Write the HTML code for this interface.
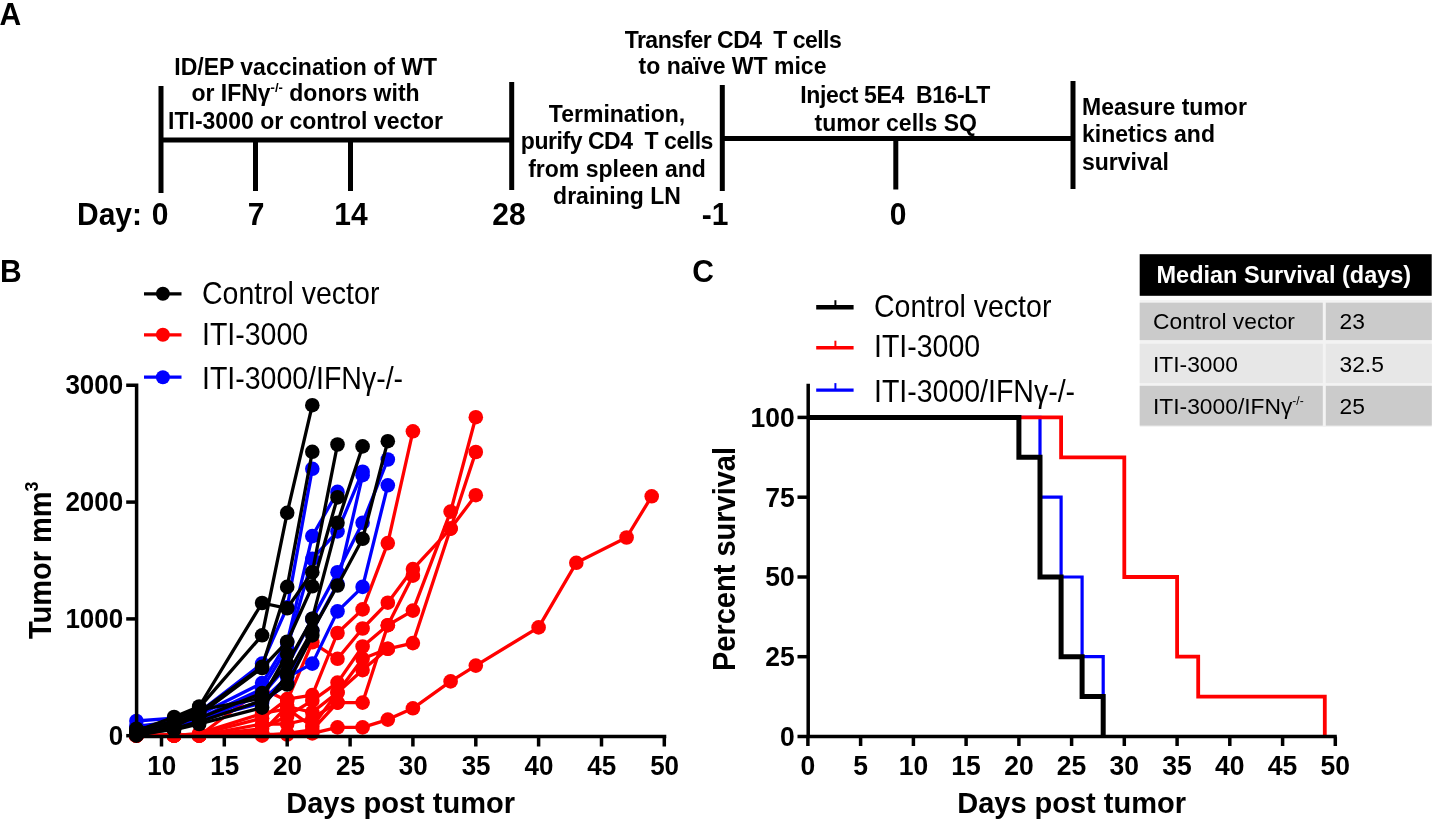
<!DOCTYPE html><html><head><meta charset="utf-8"><style>
html,body{margin:0;padding:0;background:#fff;}
body{width:1435px;height:823px;overflow:hidden;}
svg{display:block;will-change:transform;}
text{font-family:"Liberation Sans",sans-serif;}
.b{font-weight:bold;}
</style></head><body>
<svg width="1435" height="823" viewBox="0 0 1435 823">
<g fill="#000">
<text transform="translate(-0.5 25.1) scale(1 1.05)" x="0" y="0" class="b" font-size="30">A</text>
</g>
<g stroke="#000" stroke-width="5" stroke-linecap="butt" fill="none">
<line x1="161" y1="86" x2="161" y2="193"/>
<line x1="161" y1="140" x2="512" y2="140"/>
<line x1="255.5" y1="140" x2="255.5" y2="191"/>
<line x1="350.5" y1="140" x2="350.5" y2="191"/>
<line x1="511.7" y1="82" x2="511.7" y2="190"/>
<line x1="722.3" y1="85" x2="722.3" y2="191"/>
<line x1="722" y1="138.5" x2="1073" y2="138.5"/>
<line x1="895.8" y1="138.5" x2="895.8" y2="189.5"/>
<line x1="1073" y1="81" x2="1073" y2="189"/>
</g>
<g fill="#000">
<text x="305.7" y="75.2" class="b" font-size="23" text-anchor="middle">ID/EP vaccination of WT</text>
<text x="305.5" y="101.4" class="b" font-size="23" text-anchor="middle">or IFN&#947;<tspan font-size="13" dy="-9">-/-</tspan><tspan dy="9"> donors with</tspan></text>
<text x="305.5" y="128.7" class="b" font-size="23" text-anchor="middle">ITI-3000 or control vector</text>
<text x="617" y="121.5" class="b" font-size="23" text-anchor="middle">Termination,</text>
<text x="617.1" y="148.8" class="b" font-size="23" text-anchor="middle" textLength="192.6" lengthAdjust="spacing">purify CD4&#160; T cells</text>
<text x="617" y="177.1" class="b" font-size="23" text-anchor="middle">from spleen and</text>
<text x="617" y="203.5" class="b" font-size="23" text-anchor="middle">draining LN</text>
<text x="733.2" y="48.1" class="b" font-size="23" text-anchor="middle" textLength="217" lengthAdjust="spacing">Transfer CD4&#160; T cells</text>
<text x="732.5" y="74.3" class="b" font-size="23" text-anchor="middle">to na&#239;ve WT mice</text>
<text x="895.3" y="103.3" class="b" font-size="23" text-anchor="middle" textLength="190" lengthAdjust="spacing">Inject 5E4&#160; B16-LT</text>
<text x="895.7" y="130.6" class="b" font-size="23" text-anchor="middle">tumor cells SQ</text>
<text x="1082" y="115.1" class="b" font-size="23">Measure tumor</text>
<text x="1082" y="142.3" class="b" font-size="23">kinetics and</text>
<text x="1082" y="169.6" class="b" font-size="23">survival</text>
<text transform="translate(77 225) scale(1 1.05)" x="0" y="0" class="b" font-size="30">Day:</text>
<text transform="translate(160 225) scale(1 1.05)" x="0" y="0" class="b" font-size="30" text-anchor="middle">0</text>
<text transform="translate(256 225) scale(1 1.05)" x="0" y="0" class="b" font-size="30" text-anchor="middle">7</text>
<text transform="translate(351 225) scale(1 1.05)" x="0" y="0" class="b" font-size="30" text-anchor="middle">14</text>
<text transform="translate(509 225) scale(1 1.05)" x="0" y="0" class="b" font-size="30" text-anchor="middle">28</text>
<text transform="translate(715 225) scale(1 1.05)" x="0" y="0" class="b" font-size="30" text-anchor="middle">-1</text>
<text transform="translate(898 225) scale(1 1.05)" x="0" y="0" class="b" font-size="30" text-anchor="middle">0</text>
</g>
<text transform="translate(0 281.6) scale(1 1.05)" x="0" y="0" class="b" font-size="30">B</text>
<g>
<polyline points="136.4,735.7 174.1,735.7 199.2,735.7 262.1,734.5 287.2,734.5 312.3,733.4 337.5,727.4 362.6,727.4 387.8,719.6 412.9,708.3 450.6,681.4 475.8,665.6 538.6,627.4 576.3,562.8 626.6,537.5 651.7,496.3" fill="none" stroke="#ff0000" stroke-width="3.3" stroke-linejoin="round"/>
<polyline points="136.4,735.7 174.1,735.7 199.2,734.5 262.1,718.2 287.2,699.1 312.3,695.1 337.5,633.0 362.6,609.4 387.8,543.1 412.9,431.3" fill="none" stroke="#ff0000" stroke-width="3.3" stroke-linejoin="round"/>
<polyline points="136.4,735.7 174.1,734.5 199.2,735.7 262.1,688.7 287.2,700.7 312.3,642.3 337.5,658.8 362.6,628.5 387.8,602.7 412.9,569.1 450.6,528.6 475.8,495.2" fill="none" stroke="#ff0000" stroke-width="3.3" stroke-linejoin="round"/>
<polyline points="136.4,734.5 174.1,735.7 199.2,735.7 262.1,728.7 287.2,716.0 312.3,700.7 337.5,682.6 362.6,646.5 387.8,625.2 412.9,575.7" fill="none" stroke="#ff0000" stroke-width="3.3" stroke-linejoin="round"/>
<polyline points="136.4,735.7 174.1,735.7 199.2,734.5 262.1,732.2 287.2,706.5 312.3,712.3 337.5,692.6 362.6,658.8 387.8,648.8 412.9,643.1 450.6,528.6 475.8,452.0" fill="none" stroke="#ff0000" stroke-width="3.3" stroke-linejoin="round"/>
<polyline points="136.4,735.7 174.1,735.7 199.2,735.7 262.1,724.0 287.2,724.0 312.3,718.2 337.5,702.6 362.6,702.6 387.8,625.2 412.9,610.6 450.6,511.6 475.8,417.2" fill="none" stroke="#ff0000" stroke-width="3.3" stroke-linejoin="round"/>
<polyline points="136.4,735.7 174.1,735.7 199.2,733.4 262.1,713.5 287.2,708.8 312.3,726.4 337.5,692.6 362.6,670.1 387.8,648.8" fill="none" stroke="#ff0000" stroke-width="3.3" stroke-linejoin="round"/>
<polyline points="136.4,735.7 174.1,735.7 199.2,735.7 262.1,735.7 287.2,733.4 312.3,729.9 337.5,702.6" fill="none" stroke="#ff0000" stroke-width="3.3" stroke-linejoin="round"/>
<circle cx="136.4" cy="735.7" r="7.3" fill="#ff0000"/>
<circle cx="174.1" cy="735.7" r="7.3" fill="#ff0000"/>
<circle cx="199.2" cy="735.7" r="7.3" fill="#ff0000"/>
<circle cx="262.1" cy="734.5" r="7.3" fill="#ff0000"/>
<circle cx="287.2" cy="734.5" r="7.3" fill="#ff0000"/>
<circle cx="312.3" cy="733.4" r="7.3" fill="#ff0000"/>
<circle cx="337.5" cy="727.4" r="7.3" fill="#ff0000"/>
<circle cx="362.6" cy="727.4" r="7.3" fill="#ff0000"/>
<circle cx="387.8" cy="719.6" r="7.3" fill="#ff0000"/>
<circle cx="412.9" cy="708.3" r="7.3" fill="#ff0000"/>
<circle cx="450.6" cy="681.4" r="7.3" fill="#ff0000"/>
<circle cx="475.8" cy="665.6" r="7.3" fill="#ff0000"/>
<circle cx="538.6" cy="627.4" r="7.3" fill="#ff0000"/>
<circle cx="576.3" cy="562.8" r="7.3" fill="#ff0000"/>
<circle cx="626.6" cy="537.5" r="7.3" fill="#ff0000"/>
<circle cx="651.7" cy="496.3" r="7.3" fill="#ff0000"/>
<circle cx="136.4" cy="735.7" r="7.3" fill="#ff0000"/>
<circle cx="174.1" cy="735.7" r="7.3" fill="#ff0000"/>
<circle cx="199.2" cy="734.5" r="7.3" fill="#ff0000"/>
<circle cx="262.1" cy="718.2" r="7.3" fill="#ff0000"/>
<circle cx="287.2" cy="699.1" r="7.3" fill="#ff0000"/>
<circle cx="312.3" cy="695.1" r="7.3" fill="#ff0000"/>
<circle cx="337.5" cy="633.0" r="7.3" fill="#ff0000"/>
<circle cx="362.6" cy="609.4" r="7.3" fill="#ff0000"/>
<circle cx="387.8" cy="543.1" r="7.3" fill="#ff0000"/>
<circle cx="412.9" cy="431.3" r="7.3" fill="#ff0000"/>
<circle cx="136.4" cy="735.7" r="7.3" fill="#ff0000"/>
<circle cx="174.1" cy="734.5" r="7.3" fill="#ff0000"/>
<circle cx="199.2" cy="735.7" r="7.3" fill="#ff0000"/>
<circle cx="262.1" cy="688.7" r="7.3" fill="#ff0000"/>
<circle cx="287.2" cy="700.7" r="7.3" fill="#ff0000"/>
<circle cx="312.3" cy="642.3" r="7.3" fill="#ff0000"/>
<circle cx="337.5" cy="658.8" r="7.3" fill="#ff0000"/>
<circle cx="362.6" cy="628.5" r="7.3" fill="#ff0000"/>
<circle cx="387.8" cy="602.7" r="7.3" fill="#ff0000"/>
<circle cx="412.9" cy="569.1" r="7.3" fill="#ff0000"/>
<circle cx="450.6" cy="528.6" r="7.3" fill="#ff0000"/>
<circle cx="475.8" cy="495.2" r="7.3" fill="#ff0000"/>
<circle cx="136.4" cy="734.5" r="7.3" fill="#ff0000"/>
<circle cx="174.1" cy="735.7" r="7.3" fill="#ff0000"/>
<circle cx="199.2" cy="735.7" r="7.3" fill="#ff0000"/>
<circle cx="262.1" cy="728.7" r="7.3" fill="#ff0000"/>
<circle cx="287.2" cy="716.0" r="7.3" fill="#ff0000"/>
<circle cx="312.3" cy="700.7" r="7.3" fill="#ff0000"/>
<circle cx="337.5" cy="682.6" r="7.3" fill="#ff0000"/>
<circle cx="362.6" cy="646.5" r="7.3" fill="#ff0000"/>
<circle cx="387.8" cy="625.2" r="7.3" fill="#ff0000"/>
<circle cx="412.9" cy="575.7" r="7.3" fill="#ff0000"/>
<circle cx="136.4" cy="735.7" r="7.3" fill="#ff0000"/>
<circle cx="174.1" cy="735.7" r="7.3" fill="#ff0000"/>
<circle cx="199.2" cy="734.5" r="7.3" fill="#ff0000"/>
<circle cx="262.1" cy="732.2" r="7.3" fill="#ff0000"/>
<circle cx="287.2" cy="706.5" r="7.3" fill="#ff0000"/>
<circle cx="312.3" cy="712.3" r="7.3" fill="#ff0000"/>
<circle cx="337.5" cy="692.6" r="7.3" fill="#ff0000"/>
<circle cx="362.6" cy="658.8" r="7.3" fill="#ff0000"/>
<circle cx="387.8" cy="648.8" r="7.3" fill="#ff0000"/>
<circle cx="412.9" cy="643.1" r="7.3" fill="#ff0000"/>
<circle cx="450.6" cy="528.6" r="7.3" fill="#ff0000"/>
<circle cx="475.8" cy="452.0" r="7.3" fill="#ff0000"/>
<circle cx="136.4" cy="735.7" r="7.3" fill="#ff0000"/>
<circle cx="174.1" cy="735.7" r="7.3" fill="#ff0000"/>
<circle cx="199.2" cy="735.7" r="7.3" fill="#ff0000"/>
<circle cx="262.1" cy="724.0" r="7.3" fill="#ff0000"/>
<circle cx="287.2" cy="724.0" r="7.3" fill="#ff0000"/>
<circle cx="312.3" cy="718.2" r="7.3" fill="#ff0000"/>
<circle cx="337.5" cy="702.6" r="7.3" fill="#ff0000"/>
<circle cx="362.6" cy="702.6" r="7.3" fill="#ff0000"/>
<circle cx="387.8" cy="625.2" r="7.3" fill="#ff0000"/>
<circle cx="412.9" cy="610.6" r="7.3" fill="#ff0000"/>
<circle cx="450.6" cy="511.6" r="7.3" fill="#ff0000"/>
<circle cx="475.8" cy="417.2" r="7.3" fill="#ff0000"/>
<circle cx="136.4" cy="735.7" r="7.3" fill="#ff0000"/>
<circle cx="174.1" cy="735.7" r="7.3" fill="#ff0000"/>
<circle cx="199.2" cy="733.4" r="7.3" fill="#ff0000"/>
<circle cx="262.1" cy="713.5" r="7.3" fill="#ff0000"/>
<circle cx="287.2" cy="708.8" r="7.3" fill="#ff0000"/>
<circle cx="312.3" cy="726.4" r="7.3" fill="#ff0000"/>
<circle cx="337.5" cy="692.6" r="7.3" fill="#ff0000"/>
<circle cx="362.6" cy="670.1" r="7.3" fill="#ff0000"/>
<circle cx="387.8" cy="648.8" r="7.3" fill="#ff0000"/>
<circle cx="136.4" cy="735.7" r="7.3" fill="#ff0000"/>
<circle cx="174.1" cy="735.7" r="7.3" fill="#ff0000"/>
<circle cx="199.2" cy="735.7" r="7.3" fill="#ff0000"/>
<circle cx="262.1" cy="735.7" r="7.3" fill="#ff0000"/>
<circle cx="287.2" cy="733.4" r="7.3" fill="#ff0000"/>
<circle cx="312.3" cy="729.9" r="7.3" fill="#ff0000"/>
<circle cx="337.5" cy="702.6" r="7.3" fill="#ff0000"/>
<polyline points="136.4,721.0 174.1,718.2 199.2,712.3 262.1,663.6 287.2,607.2 312.3,468.8" fill="none" stroke="#0000ff" stroke-width="3.3" stroke-linejoin="round"/>
<polyline points="136.4,726.4 174.1,721.7 199.2,714.7 262.1,683.1 287.2,642.3 312.3,536.1 337.5,491.9" fill="none" stroke="#0000ff" stroke-width="3.3" stroke-linejoin="round"/>
<polyline points="136.4,728.7 174.1,724.0 199.2,718.2 262.1,689.0 287.2,648.1 312.3,558.9 337.5,531.4 362.6,471.7" fill="none" stroke="#0000ff" stroke-width="3.3" stroke-linejoin="round"/>
<polyline points="136.4,731.0 174.1,725.2 199.2,720.5 262.1,694.8 287.2,665.6 312.3,618.9 337.5,572.2 362.6,522.8 387.8,459.5" fill="none" stroke="#0000ff" stroke-width="3.3" stroke-linejoin="round"/>
<polyline points="136.4,732.2 174.1,727.5 199.2,721.7 262.1,700.7 287.2,677.3 312.3,663.6 337.5,611.4 362.6,586.9 387.8,485.3" fill="none" stroke="#0000ff" stroke-width="3.3" stroke-linejoin="round"/>
<polyline points="136.4,729.9 174.1,726.4 199.2,719.3 262.1,703.0 287.2,683.1 312.3,630.6 337.5,583.9 362.6,475.2" fill="none" stroke="#0000ff" stroke-width="3.3" stroke-linejoin="round"/>
<circle cx="136.4" cy="721.0" r="7.3" fill="#0000ff"/>
<circle cx="174.1" cy="718.2" r="7.3" fill="#0000ff"/>
<circle cx="199.2" cy="712.3" r="7.3" fill="#0000ff"/>
<circle cx="262.1" cy="663.6" r="7.3" fill="#0000ff"/>
<circle cx="287.2" cy="607.2" r="7.3" fill="#0000ff"/>
<circle cx="312.3" cy="468.8" r="7.3" fill="#0000ff"/>
<circle cx="136.4" cy="726.4" r="7.3" fill="#0000ff"/>
<circle cx="174.1" cy="721.7" r="7.3" fill="#0000ff"/>
<circle cx="199.2" cy="714.7" r="7.3" fill="#0000ff"/>
<circle cx="262.1" cy="683.1" r="7.3" fill="#0000ff"/>
<circle cx="287.2" cy="642.3" r="7.3" fill="#0000ff"/>
<circle cx="312.3" cy="536.1" r="7.3" fill="#0000ff"/>
<circle cx="337.5" cy="491.9" r="7.3" fill="#0000ff"/>
<circle cx="136.4" cy="728.7" r="7.3" fill="#0000ff"/>
<circle cx="174.1" cy="724.0" r="7.3" fill="#0000ff"/>
<circle cx="199.2" cy="718.2" r="7.3" fill="#0000ff"/>
<circle cx="262.1" cy="689.0" r="7.3" fill="#0000ff"/>
<circle cx="287.2" cy="648.1" r="7.3" fill="#0000ff"/>
<circle cx="312.3" cy="558.9" r="7.3" fill="#0000ff"/>
<circle cx="337.5" cy="531.4" r="7.3" fill="#0000ff"/>
<circle cx="362.6" cy="471.7" r="7.3" fill="#0000ff"/>
<circle cx="136.4" cy="731.0" r="7.3" fill="#0000ff"/>
<circle cx="174.1" cy="725.2" r="7.3" fill="#0000ff"/>
<circle cx="199.2" cy="720.5" r="7.3" fill="#0000ff"/>
<circle cx="262.1" cy="694.8" r="7.3" fill="#0000ff"/>
<circle cx="287.2" cy="665.6" r="7.3" fill="#0000ff"/>
<circle cx="312.3" cy="618.9" r="7.3" fill="#0000ff"/>
<circle cx="337.5" cy="572.2" r="7.3" fill="#0000ff"/>
<circle cx="362.6" cy="522.8" r="7.3" fill="#0000ff"/>
<circle cx="387.8" cy="459.5" r="7.3" fill="#0000ff"/>
<circle cx="136.4" cy="732.2" r="7.3" fill="#0000ff"/>
<circle cx="174.1" cy="727.5" r="7.3" fill="#0000ff"/>
<circle cx="199.2" cy="721.7" r="7.3" fill="#0000ff"/>
<circle cx="262.1" cy="700.7" r="7.3" fill="#0000ff"/>
<circle cx="287.2" cy="677.3" r="7.3" fill="#0000ff"/>
<circle cx="312.3" cy="663.6" r="7.3" fill="#0000ff"/>
<circle cx="337.5" cy="611.4" r="7.3" fill="#0000ff"/>
<circle cx="362.6" cy="586.9" r="7.3" fill="#0000ff"/>
<circle cx="387.8" cy="485.3" r="7.3" fill="#0000ff"/>
<circle cx="136.4" cy="729.9" r="7.3" fill="#0000ff"/>
<circle cx="174.1" cy="726.4" r="7.3" fill="#0000ff"/>
<circle cx="199.2" cy="719.3" r="7.3" fill="#0000ff"/>
<circle cx="262.1" cy="703.0" r="7.3" fill="#0000ff"/>
<circle cx="287.2" cy="683.1" r="7.3" fill="#0000ff"/>
<circle cx="312.3" cy="630.6" r="7.3" fill="#0000ff"/>
<circle cx="337.5" cy="583.9" r="7.3" fill="#0000ff"/>
<circle cx="362.6" cy="475.2" r="7.3" fill="#0000ff"/>
<polyline points="136.4,733.4 174.1,720.5 199.2,707.7 262.1,635.3 287.2,512.8 312.3,405.2" fill="none" stroke="#000000" stroke-width="3.3" stroke-linejoin="round"/>
<polyline points="136.4,731.0 174.1,717.0 199.2,706.5 262.1,603.0 287.2,608.3 312.3,572.2 337.5,444.5" fill="none" stroke="#000000" stroke-width="3.3" stroke-linejoin="round"/>
<polyline points="136.4,732.2 174.1,722.9 199.2,712.3 262.1,666.8 287.2,586.9 312.3,451.8" fill="none" stroke="#000000" stroke-width="3.3" stroke-linejoin="round"/>
<polyline points="136.4,734.5 174.1,726.4 199.2,714.7 262.1,668.0 287.2,641.7 312.3,586.3 337.5,497.4" fill="none" stroke="#000000" stroke-width="3.3" stroke-linejoin="round"/>
<polyline points="136.4,729.9 174.1,721.7 199.2,718.2 262.1,693.1 287.2,663.6 312.3,618.7 337.5,522.8 362.6,446.4" fill="none" stroke="#000000" stroke-width="3.3" stroke-linejoin="round"/>
<polyline points="136.4,735.7 174.1,728.7 199.2,721.7 262.1,700.7 287.2,684.5 312.3,635.4" fill="none" stroke="#000000" stroke-width="3.3" stroke-linejoin="round"/>
<polyline points="136.4,733.4 174.1,729.9 199.2,724.0 262.1,707.6 287.2,675.0 312.3,630.6 337.5,585.5 362.6,538.8 387.8,441.2" fill="none" stroke="#000000" stroke-width="3.3" stroke-linejoin="round"/>
<polyline points="136.4,728.7 174.1,725.2 199.2,710.0 262.1,698.3 287.2,653.9" fill="none" stroke="#000000" stroke-width="3.3" stroke-linejoin="round"/>
<circle cx="136.4" cy="733.4" r="7.3" fill="#000000"/>
<circle cx="174.1" cy="720.5" r="7.3" fill="#000000"/>
<circle cx="199.2" cy="707.7" r="7.3" fill="#000000"/>
<circle cx="262.1" cy="635.3" r="7.3" fill="#000000"/>
<circle cx="287.2" cy="512.8" r="7.3" fill="#000000"/>
<circle cx="312.3" cy="405.2" r="7.3" fill="#000000"/>
<circle cx="136.4" cy="731.0" r="7.3" fill="#000000"/>
<circle cx="174.1" cy="717.0" r="7.3" fill="#000000"/>
<circle cx="199.2" cy="706.5" r="7.3" fill="#000000"/>
<circle cx="262.1" cy="603.0" r="7.3" fill="#000000"/>
<circle cx="287.2" cy="608.3" r="7.3" fill="#000000"/>
<circle cx="312.3" cy="572.2" r="7.3" fill="#000000"/>
<circle cx="337.5" cy="444.5" r="7.3" fill="#000000"/>
<circle cx="136.4" cy="732.2" r="7.3" fill="#000000"/>
<circle cx="174.1" cy="722.9" r="7.3" fill="#000000"/>
<circle cx="199.2" cy="712.3" r="7.3" fill="#000000"/>
<circle cx="262.1" cy="666.8" r="7.3" fill="#000000"/>
<circle cx="287.2" cy="586.9" r="7.3" fill="#000000"/>
<circle cx="312.3" cy="451.8" r="7.3" fill="#000000"/>
<circle cx="136.4" cy="734.5" r="7.3" fill="#000000"/>
<circle cx="174.1" cy="726.4" r="7.3" fill="#000000"/>
<circle cx="199.2" cy="714.7" r="7.3" fill="#000000"/>
<circle cx="262.1" cy="668.0" r="7.3" fill="#000000"/>
<circle cx="287.2" cy="641.7" r="7.3" fill="#000000"/>
<circle cx="312.3" cy="586.3" r="7.3" fill="#000000"/>
<circle cx="337.5" cy="497.4" r="7.3" fill="#000000"/>
<circle cx="136.4" cy="729.9" r="7.3" fill="#000000"/>
<circle cx="174.1" cy="721.7" r="7.3" fill="#000000"/>
<circle cx="199.2" cy="718.2" r="7.3" fill="#000000"/>
<circle cx="262.1" cy="693.1" r="7.3" fill="#000000"/>
<circle cx="287.2" cy="663.6" r="7.3" fill="#000000"/>
<circle cx="312.3" cy="618.7" r="7.3" fill="#000000"/>
<circle cx="337.5" cy="522.8" r="7.3" fill="#000000"/>
<circle cx="362.6" cy="446.4" r="7.3" fill="#000000"/>
<circle cx="136.4" cy="735.7" r="7.3" fill="#000000"/>
<circle cx="174.1" cy="728.7" r="7.3" fill="#000000"/>
<circle cx="199.2" cy="721.7" r="7.3" fill="#000000"/>
<circle cx="262.1" cy="700.7" r="7.3" fill="#000000"/>
<circle cx="287.2" cy="684.5" r="7.3" fill="#000000"/>
<circle cx="312.3" cy="635.4" r="7.3" fill="#000000"/>
<circle cx="136.4" cy="733.4" r="7.3" fill="#000000"/>
<circle cx="174.1" cy="729.9" r="7.3" fill="#000000"/>
<circle cx="199.2" cy="724.0" r="7.3" fill="#000000"/>
<circle cx="262.1" cy="707.6" r="7.3" fill="#000000"/>
<circle cx="287.2" cy="675.0" r="7.3" fill="#000000"/>
<circle cx="312.3" cy="630.6" r="7.3" fill="#000000"/>
<circle cx="337.5" cy="585.5" r="7.3" fill="#000000"/>
<circle cx="362.6" cy="538.8" r="7.3" fill="#000000"/>
<circle cx="387.8" cy="441.2" r="7.3" fill="#000000"/>
<circle cx="136.4" cy="728.7" r="7.3" fill="#000000"/>
<circle cx="174.1" cy="725.2" r="7.3" fill="#000000"/>
<circle cx="199.2" cy="710.0" r="7.3" fill="#000000"/>
<circle cx="262.1" cy="698.3" r="7.3" fill="#000000"/>
<circle cx="287.2" cy="653.9" r="7.3" fill="#000000"/>
</g>
<g stroke="#000" stroke-width="3.5" fill="none">
<polyline points="126.2,385.3 136.6,385.3 136.6,736.6 666.3,736.6"/>
<line x1="126.2" y1="502.1" x2="136.6" y2="502.1"/>
<line x1="126.2" y1="618.9" x2="136.6" y2="618.9"/>
<line x1="126.2" y1="735.7" x2="136.6" y2="735.7"/>
<line x1="161.5" y1="736.6" x2="161.5" y2="746.5"/>
<line x1="224.3" y1="736.6" x2="224.3" y2="746.5"/>
<line x1="287.2" y1="736.6" x2="287.2" y2="746.5"/>
<line x1="350.1" y1="736.6" x2="350.1" y2="746.5"/>
<line x1="412.9" y1="736.6" x2="412.9" y2="746.5"/>
<line x1="475.8" y1="736.6" x2="475.8" y2="746.5"/>
<line x1="538.6" y1="736.6" x2="538.6" y2="746.5"/>
<line x1="601.5" y1="736.6" x2="601.5" y2="746.5"/>
<line x1="664.3" y1="736.6" x2="664.3" y2="746.5"/>
</g>
<g fill="#000">
<text transform="translate(123.2 394.3) scale(1 1.05)" x="0" y="0" class="b" font-size="26" text-anchor="end">3000</text>
<text transform="translate(123.2 511.1) scale(1 1.05)" x="0" y="0" class="b" font-size="26" text-anchor="end">2000</text>
<text transform="translate(123.2 627.9) scale(1 1.05)" x="0" y="0" class="b" font-size="26" text-anchor="end">1000</text>
<text transform="translate(123.2 744.7) scale(1 1.05)" x="0" y="0" class="b" font-size="26" text-anchor="end">0</text>
<text transform="translate(161.8 775.2) scale(1 1.05)" x="0" y="0" class="b" font-size="26" text-anchor="middle">10</text>
<text transform="translate(224.7 775.2) scale(1 1.05)" x="0" y="0" class="b" font-size="26" text-anchor="middle">15</text>
<text transform="translate(287.5 775.2) scale(1 1.05)" x="0" y="0" class="b" font-size="26" text-anchor="middle">20</text>
<text transform="translate(350.4 775.2) scale(1 1.05)" x="0" y="0" class="b" font-size="26" text-anchor="middle">25</text>
<text transform="translate(413.2 775.2) scale(1 1.05)" x="0" y="0" class="b" font-size="26" text-anchor="middle">30</text>
<text transform="translate(476.1 775.2) scale(1 1.05)" x="0" y="0" class="b" font-size="26" text-anchor="middle">35</text>
<text transform="translate(538.9 775.2) scale(1 1.05)" x="0" y="0" class="b" font-size="26" text-anchor="middle">40</text>
<text transform="translate(601.8 775.2) scale(1 1.05)" x="0" y="0" class="b" font-size="26" text-anchor="middle">45</text>
<text transform="translate(664.6 775.2) scale(1 1.05)" x="0" y="0" class="b" font-size="26" text-anchor="middle">50</text>
<text transform="translate(400.6 812.9) scale(1 1.03)" x="0" y="0" class="b" font-size="29" text-anchor="middle">Days post tumor</text>
<text transform="translate(50.8,560.2) rotate(-90) scale(1,1.05)" class="b" font-size="29" text-anchor="middle">Tumor mm<tspan font-size="18" dy="-12">3</tspan></text>
</g>
<g>
<line x1="144" y1="293.8" x2="181.5" y2="293.8" stroke="#000" stroke-width="3.3"/>
<circle cx="162.9" cy="293.8" r="7" fill="#000"/>
<text transform="translate(202 304.0) scale(1 1.08)" x="0" y="0"  font-size="28.5">Control vector</text>
<line x1="144" y1="334.8" x2="181.5" y2="334.8" stroke="#ff0000" stroke-width="3.3"/>
<circle cx="162.9" cy="334.8" r="7" fill="#ff0000"/>
<text transform="translate(202 344.5) scale(1 1.08)" x="0" y="0"  font-size="28.5">ITI-3000</text>
<line x1="144" y1="377.2" x2="181.5" y2="377.2" stroke="#0000ff" stroke-width="3.3"/>
<circle cx="162.9" cy="377.2" r="7" fill="#0000ff"/>
<text transform="translate(202 388.7) scale(1 1.08)" x="0" y="0"  font-size="28.5">ITI-3000/IFN&#947;-/-</text>
</g>
<text transform="translate(692.3 282.1) scale(1 1.05)" x="0" y="0" class="b" font-size="30">C</text>
<polyline points="807.9,417.4 1040.0,417.4 1040.0,497.2 1061.1,497.2 1061.1,577.0 1082.1,577.0 1082.1,656.7 1103.2,656.7 1103.2,736.5" fill="none" stroke="#0000ff" stroke-width="3.2"/>
<polyline points="807.9,417.4 1061.1,417.4 1061.1,457.3 1124.3,457.3 1124.3,577.0 1177.1,577.0 1177.1,656.7 1198.2,656.7 1198.2,696.6 1324.8,696.6 1324.8,736.5" fill="none" stroke="#ff0000" stroke-width="3.8"/>
<polyline points="807.9,417.4 1018.9,417.4 1018.9,457.3 1040.0,457.3 1040.0,577.0 1061.1,577.0 1061.1,656.7 1082.1,656.7 1082.1,696.6 1103.2,696.6 1103.2,736.5" fill="none" stroke="#000" stroke-width="5"/>
<g stroke="#000" stroke-width="3.5" fill="none">
<polyline points="808.2,383.7 808.2,736.6 1336.8,736.6"/>
<line x1="797.5" y1="417.4" x2="808.2" y2="417.4"/>
<line x1="797.5" y1="497.2" x2="808.2" y2="497.2"/>
<line x1="797.5" y1="577.0" x2="808.2" y2="577.0"/>
<line x1="797.5" y1="656.7" x2="808.2" y2="656.7"/>
<line x1="797.5" y1="736.5" x2="808.2" y2="736.5"/>
<line x1="807.9" y1="736.6" x2="807.9" y2="746"/>
<line x1="860.6" y1="736.6" x2="860.6" y2="746"/>
<line x1="913.4" y1="736.6" x2="913.4" y2="746"/>
<line x1="966.1" y1="736.6" x2="966.1" y2="746"/>
<line x1="1018.9" y1="736.6" x2="1018.9" y2="746"/>
<line x1="1071.6" y1="736.6" x2="1071.6" y2="746"/>
<line x1="1124.3" y1="736.6" x2="1124.3" y2="746"/>
<line x1="1177.1" y1="736.6" x2="1177.1" y2="746"/>
<line x1="1229.8" y1="736.6" x2="1229.8" y2="746"/>
<line x1="1282.6" y1="736.6" x2="1282.6" y2="746"/>
<line x1="1335.3" y1="736.6" x2="1335.3" y2="746"/>
</g>
<g fill="#000">
<text transform="translate(794.8 426.7) scale(1 1.05)" x="0" y="0" class="b" font-size="26.5" text-anchor="end">100</text>
<text transform="translate(794.8 506.5) scale(1 1.05)" x="0" y="0" class="b" font-size="26.5" text-anchor="end">75</text>
<text transform="translate(794.8 586.2) scale(1 1.05)" x="0" y="0" class="b" font-size="26.5" text-anchor="end">50</text>
<text transform="translate(794.8 666.0) scale(1 1.05)" x="0" y="0" class="b" font-size="26.5" text-anchor="end">25</text>
<text transform="translate(794.8 745.8) scale(1 1.05)" x="0" y="0" class="b" font-size="26.5" text-anchor="end">0</text>
<text transform="translate(807.9 775.3) scale(1 1.05)" x="0" y="0" class="b" font-size="26.5" text-anchor="middle">0</text>
<text transform="translate(860.6 775.3) scale(1 1.05)" x="0" y="0" class="b" font-size="26.5" text-anchor="middle">5</text>
<text transform="translate(913.4 775.3) scale(1 1.05)" x="0" y="0" class="b" font-size="26.5" text-anchor="middle">10</text>
<text transform="translate(966.1 775.3) scale(1 1.05)" x="0" y="0" class="b" font-size="26.5" text-anchor="middle">15</text>
<text transform="translate(1018.9 775.3) scale(1 1.05)" x="0" y="0" class="b" font-size="26.5" text-anchor="middle">20</text>
<text transform="translate(1071.6 775.3) scale(1 1.05)" x="0" y="0" class="b" font-size="26.5" text-anchor="middle">25</text>
<text transform="translate(1124.3 775.3) scale(1 1.05)" x="0" y="0" class="b" font-size="26.5" text-anchor="middle">30</text>
<text transform="translate(1177.1 775.3) scale(1 1.05)" x="0" y="0" class="b" font-size="26.5" text-anchor="middle">35</text>
<text transform="translate(1229.8 775.3) scale(1 1.05)" x="0" y="0" class="b" font-size="26.5" text-anchor="middle">40</text>
<text transform="translate(1282.6 775.3) scale(1 1.05)" x="0" y="0" class="b" font-size="26.5" text-anchor="middle">45</text>
<text transform="translate(1335.3 775.3) scale(1 1.05)" x="0" y="0" class="b" font-size="26.5" text-anchor="middle">50</text>
<text transform="translate(1071.6 812.9) scale(1 1.03)" x="0" y="0" class="b" font-size="29" text-anchor="middle">Days post tumor</text>
<text transform="translate(734.7,559) rotate(-90) scale(1,1.05)" class="b" font-size="29" text-anchor="middle">Percent survival</text>
</g>
<g>
<line x1="816.2" y1="307.2" x2="853.6" y2="307.2" stroke="#000" stroke-width="4.4"/>
<line x1="835.4" y1="300.2" x2="835.4" y2="307.2" stroke="#000" stroke-width="2"/>
<text transform="translate(874 316.5) scale(1 1.08)" x="0" y="0"  font-size="28.5">Control vector</text>
<line x1="816.2" y1="347.7" x2="853.6" y2="347.7" stroke="#ff0000" stroke-width="3.5"/>
<line x1="835.4" y1="340.7" x2="835.4" y2="347.7" stroke="#ff0000" stroke-width="2"/>
<text transform="translate(874 356.9) scale(1 1.08)" x="0" y="0"  font-size="28.5">ITI-3000</text>
<line x1="816.2" y1="390.1" x2="853.6" y2="390.1" stroke="#0000ff" stroke-width="3.2"/>
<line x1="835.4" y1="383.1" x2="835.4" y2="390.1" stroke="#0000ff" stroke-width="2"/>
<text transform="translate(874 402.0) scale(1 1.08)" x="0" y="0"  font-size="28.5">ITI-3000/IFN&#947;-/-</text>
</g>
<g>
<rect x="1139.7" y="254.2" width="292" height="41.6" fill="#000"/>
<rect x="1139.7" y="300" width="292" height="127" fill="#f3f3f3"/>
<rect x="1139.7" y="302.7" width="183.1" height="37.4" fill="#cbcbcb"/>
<rect x="1325.8" y="302.7" width="106" height="37.4" fill="#cbcbcb"/>
<rect x="1139.7" y="343.8" width="183.1" height="39.3" fill="#e7e7e7"/>
<rect x="1325.8" y="343.8" width="106" height="39.3" fill="#e7e7e7"/>
<rect x="1139.7" y="385.8" width="183.1" height="39.8" fill="#cbcbcb"/>
<rect x="1325.8" y="385.8" width="106" height="39.8" fill="#cbcbcb"/>
<text x="1156.5" y="283.1" class="b" font-size="23.5" fill="#fff">Median Survival (days)</text>
<text x="1153" y="328.6" font-size="22.8" fill="#000">Control vector</text>
<text x="1153" y="372" font-size="22.8" fill="#000">ITI-3000</text>
<text x="1153" y="413.6" font-size="22.8" fill="#000">ITI-3000/IFN&#947;<tspan font-size="12" dy="-9">-/-</tspan></text>
<text x="1339.5" y="328.6" font-size="22.8" fill="#000">23</text>
<text x="1339.5" y="372" font-size="22.8" fill="#000">32.5</text>
<text x="1339.5" y="413.6" font-size="22.8" fill="#000">25</text>
</g>
</svg></body></html>
